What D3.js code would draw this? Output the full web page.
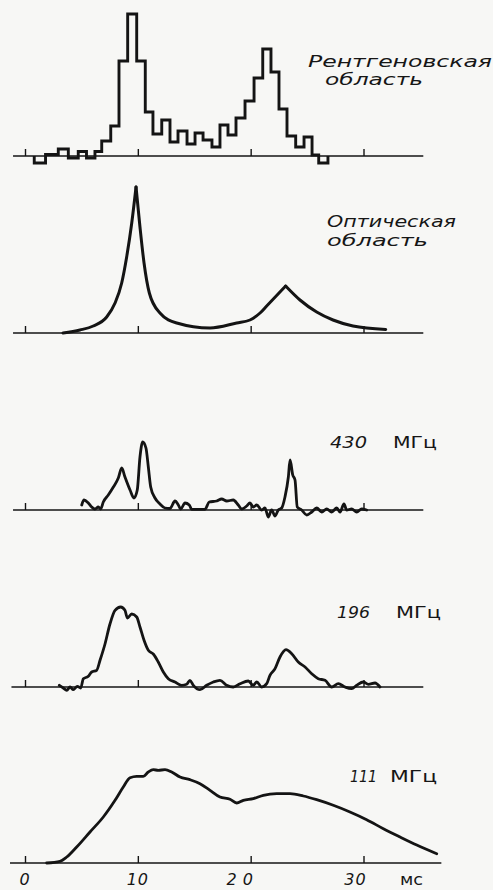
<!DOCTYPE html>
<html>
<head>
<meta charset="utf-8">
<script src="https://cdn.jsdelivr.net/npm/d3@7"></script>
<style>
  html, body { margin: 0; padding: 0; background: #f7f7f5; }
  svg { display: block; }
  text { font-family: "DejaVu Sans", sans-serif; fill: #161616; }
</style>
</head>
<body>
<svg id="chart" width="493" height="890"></svg>
<script>
// ---------------- DATA ----------------
// time axis (ms)
const tickValues = [0, 10, 20, 30];
const tickLabels = ["0", "10", "20", "30"];
const axisUnit = "мс";

// Panel 1: X-ray histogram (bin edges in ms, counts in relative units)
const xrayEdges = [0.82, 1.82, 2.95, 3.84, 4.72, 5.45, 6.20, 6.80, 7.60, 8.33, 9.10, 9.90,
  10.66, 11.34, 12.12, 12.85, 13.56, 14.36, 15.07, 15.78, 16.57, 17.28, 17.99, 18.70,
  19.50, 20.30, 21.07, 21.80, 22.51, 23.22, 23.99, 24.73, 25.44, 26.03, 26.85];
const xrayCounts = [-7, 1.5, 7, -2, 4.5, -2, 4.5, 15, 30, 95, 142, 95, 44, 22, 36, 14, 25, 12,
  23, 16, 9, 31, 21, 38, 55, 78, 107, 84, 47, 20, 9, 19, 1, -7];

// Panel 2: optical
const opticalT = [3.37, 4.87, 6.05, 7.24, 7.98, 8.57, 9.01, 9.46, 9.84, 10.19, 10.55, 11.02,
  11.96, 13.45, 16.40, 18.76, 19.94, 20.83, 21.42, 23.10, 24.37, 25.85, 27.30, 29.07, 31.97];
const opticalI = [0, 3, 7, 16, 30, 50, 76, 110, 146, 106, 70, 40,
  20, 10, 5, 10, 13, 20, 27, 47, 33, 21, 13, 7, 3.5];
const opticalCusps = [9.84, 23.10];

// Panel 3: 430 MHz
const r430T = [5.03, 5.23, 5.61, 5.91, 6.20, 6.50, 6.71, 6.94, 7.38, 7.83, 8.27, 8.57, 8.86,
  9.31, 9.66, 9.95, 10.19, 10.43, 10.72, 10.93, 11.14, 11.52, 11.96, 12.41, 12.85, 13.29,
  13.59, 13.80, 14.18, 14.56, 14.77, 15.95, 16.33, 16.99, 17.43, 17.88, 18.46, 18.90,
  19.21, 19.65, 19.94, 20.23, 20.54, 20.98, 21.27, 21.56, 21.86, 22.16, 22.45, 22.75,
  23.04, 23.34, 23.49, 23.73, 23.93, 24.13, 24.52, 24.97, 25.41, 25.85, 26.30, 26.74,
  27.18, 27.63, 27.92, 28.27, 28.51, 28.95, 29.40, 29.84, 30.28];
const r430I = [5, 10, 7, 3, 1, 3, 1, 8, 15, 23, 32, 42, 33,
  20, 12, 20, 53, 68, 62, 43, 23, 12, 6, 2, 1.5, 9,
  5, 1, 7, 5, 0.7, 0.7, 8, 9, 11, 9, 10, 5,
  1, 4, 7, 3, 5, 0, 2, -7, 0, -6, 0, 2,
  13, 33, 50, 35, 30, 3, 0, -5, -2, 2, -2, 1,
  -2, 2, -2, 6, 0, 1, -2, 1, 0];

// Panel 4: 196 MHz
const r196T = [3.04, 3.39, 3.70, 3.99, 4.28, 4.64, 4.94, 5.17, 5.61, 5.91, 6.35, 6.65, 7.09,
  7.53, 7.98, 8.48, 8.86, 9.07, 9.46, 9.90, 10.19, 10.55, 10.93, 11.37, 11.81, 12.26,
  12.70, 13.29, 13.89, 14.33, 14.62, 14.92, 15.51, 16.10, 16.69, 17.28, 17.88, 18.46,
  19.06, 19.79, 20.23, 20.54, 20.98, 21.42, 21.71, 22.16, 22.60, 23.13, 23.64, 24.22,
  24.82, 25.41, 25.99, 26.59, 27.18, 27.77, 28.36, 28.95, 29.40, 29.98, 30.43, 31.02, 31.46];
const r196I = [1.7, -1, -3.3, 0, -2.7, 0.7, -1, 8.3, 10.7, 15, 16.7, 26.7, 43,
  63, 76.7, 80, 76.7, 69, 73, 70, 60, 46.7, 36.7, 33, 25, 15,
  8.3, 5, 1.7, 2.7, 6.7, 1.7, -2.7, 1.7, 5, 6.7, 1.7, 0,
  3.3, 6, 1.7, 5, 0, 3.3, 11.7, 18.3, 30, 37.3, 33.3, 25,
  20, 13.3, 8.3, 6.7, 0, 3.3, 0, -1.7, 1.7, 5, 2.7, 4, 0];

// Panel 5: 111 MHz
const r111T = [1.92, 3.10, 3.70, 4.58, 5.76, 6.94, 7.98, 8.71, 9.31, 9.90, 10.48, 10.93,
  11.37, 11.81, 12.41, 13.00, 13.74, 14.62, 15.51, 16.40, 17.28, 18.17, 18.76, 19.35,
  20.23, 21.12, 22.31, 23.49, 24.67, 25.85, 27.32, 28.80, 30.28, 31.76, 33.24, 34.72, 36.49];
const r111I = [0, 1.7, 6, 16, 31, 46, 62.7, 76, 85.3, 86.7, 86.7, 91,
  93.3, 92.7, 93.3, 91, 86, 83.3, 79.3, 72.7, 66, 63.7, 60, 62.7,
  64.3, 67.7, 69.3, 69.3, 67, 63.3, 57.7, 51, 43.3, 34.3, 26, 18, 9.3];

// Panel labels
const panelTitles = [["Рентгеновская", "область"], ["Оптическая", "область"], ["430", "МГц"], ["196", "МГц"], ["111", "МГц"]];
// baseline extents (ms)
const baseExtents = [[-1.06, 35.3], [-1.06, 35.3], [-1.06, 35.3], [-1.2, 35.3], [-1.33, 36.9]];

// ---------------- LAYOUT ----------------
const svg = d3.select("#chart");
const x = d3.scaleLinear().domain([0, 30]).range([25, 363.5]);
const baselines = [156, 333, 510, 687, 863];
const ys = baselines.map(b => d3.scaleLinear().domain([0, 100]).range([b, b - 100]));

const ink = "#141414";

// baselines and ticks
baselines.forEach((b, i) => {
  const ext = baseExtents[i];
  svg.append("line")
    .attr("x1", x(ext[0])).attr("x2", x(ext[1]))
    .attr("y1", b).attr("y2", b)
    .attr("stroke", ink).attr("stroke-width", 1.6);
  const ax = svg.append("g").attr("transform", `translate(0,${b})`)
    .call(d3.axisTop(x).tickValues(tickValues).tickSize(7).tickFormat(""));
  ax.select(".domain").remove();
  ax.selectAll(".tick line").attr("stroke", ink).attr("stroke-width", 1.4);
});

// Panel 1 histogram
{
  const pts = [[xrayEdges[0], 0]];
  xrayCounts.forEach((v, i) => pts.push([xrayEdges[i], v]));
  pts.push([xrayEdges[xrayEdges.length - 1], 0]);
  const line = d3.line().x(d => x(d[0])).y(d => ys[0](d[1])).curve(d3.curveStepAfter);
  svg.append("path").attr("d", line(pts))
    .attr("fill", "none").attr("stroke", ink).attr("stroke-width", 2.9)
    .attr("stroke-linejoin", "miter");
}

// Panel 2 optical: smooth segments joined at cusps
{
  const data = opticalT.map((t, i) => [t, opticalI[i]]);
  const segs = [];
  let cur = [];
  data.forEach(d => {
    cur.push(d);
    if (opticalCusps.includes(d[0])) { segs.push(cur); cur = [d]; }
  });
  if (cur.length > 1) segs.push(cur);
  const line = d3.line().x(d => x(d[0])).y(d => ys[1](d[1])).curve(d3.curveMonotoneX);
  segs.forEach(s => svg.append("path").attr("d", line(s))
    .attr("fill", "none").attr("stroke", ink).attr("stroke-width", 3)
    .attr("stroke-linecap", "round").attr("stroke-linejoin", "round"));
}

// Panels 3-5
[[r430T, r430I, 2], [r196T, r196I, 3], [r111T, r111I, 4]]
  .forEach(([T, I, p]) => {
    const line = d3.line().x((d, i) => x(T[i])).y(d => ys[p](d)).curve(d3.curveMonotoneX);
    svg.append("path").attr("d", line(I))
      .attr("fill", "none").attr("stroke", ink).attr("stroke-width", 2.8)
      .attr("stroke-linecap", "round").attr("stroke-linejoin", "round");
  });

// Titles
function label(txt, xx, yy, size, len, italic) {
  const t = svg.append("text").attr("x", xx).attr("y", yy).text(txt)
    .style("font-size", size + "px")
    .style("font-style", italic ? "italic" : "normal");
  if (len) t.attr("textLength", len).attr("lengthAdjust", "spacingAndGlyphs");
  return t;
}
label(panelTitles[0][0], 308, 67, 16, 184, true);
label(panelTitles[0][1], 325, 85, 16, 98, true);
label(panelTitles[1][0], 327, 227, 16, 129, true);
label(panelTitles[1][1], 327, 246, 16, 101, true);
label(panelTitles[2][0], 330, 448, 15, 37, true);
label(panelTitles[2][1], 393, 448, 15, 44, false);
label(panelTitles[3][0], 337, 618, 15, 33, true);
label(panelTitles[3][1], 396, 618, 15, 45, false);
label(panelTitles[4][0], 350, 782, 16, 27, true);
label(panelTitles[4][1], 390, 782, 16, 47, false);

// Bottom axis labels
svg.selectAll("text.tl").data(tickValues).join("text").attr("class", "tl")
  .attr("x", d => x(d) - (d >= 20 ? 8 : 0))
  .attr("y", 885)
  .attr("text-anchor", "middle")
  .style("font-size", "16px").style("font-style", "italic")
  .style("letter-spacing", (d, i) => i === 2 ? "6px" : "1px")
  .text((d, i) => tickLabels[i]);
svg.append("text").attr("x", 400).attr("y", 885).text(axisUnit)
  .style("font-size", "16px").attr("textLength", 23).attr("lengthAdjust", "spacingAndGlyphs");
</script>
</body>
</html>
